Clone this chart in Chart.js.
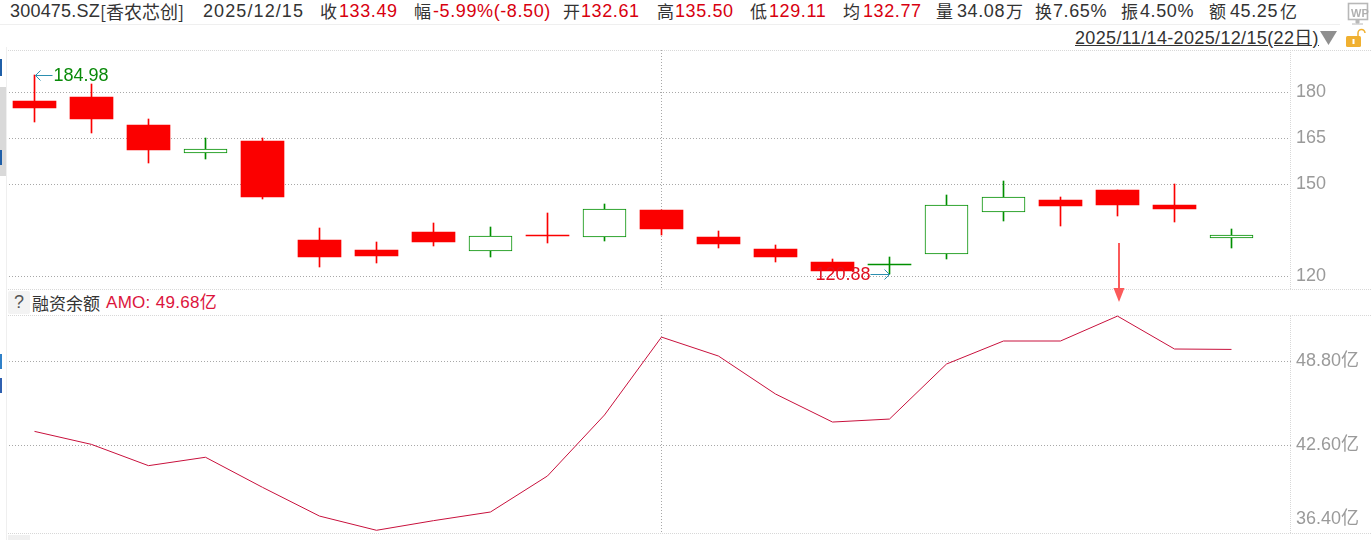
<!DOCTYPE html>
<html>
<head>
<meta charset="utf-8">
<script src="https://cdn.jsdelivr.net/npm/chart.js@4/dist/chart.umd.min.js"></script>
<style>
  html, body { margin: 0; background: #fff; overflow: hidden; }
  #page { position: relative; width: 1371px; height: 540px; overflow: hidden; font-family: "Liberation Sans", "Noto Sans CJK SC", sans-serif; }
  #page canvas { position: absolute; left: 0; }
  .t { position: absolute; white-space: nowrap; font-size: 18px; letter-spacing: 0.6px; line-height: 22px; color: #333; }
  .cn { font-family: "Noto Sans CJK SC", sans-serif; font-size: 17px; letter-spacing: 0; }
  .r { color: #d8000f; }
  .box { position: absolute; }
</style>
</head>
<body>
<div id="page">
  <canvas id="priceChart" width="1371" height="239" style="top:50px"></canvas>
  <canvas id="amoChart" width="1371" height="218" style="top:315px"></canvas>
</div>
<script>
const dates = ['11/14', '11/17', '11/18', '11/19', '11/20', '11/21', '11/24', '11/25', '11/26', '11/27', '11/28',
    '12/01', '12/02', '12/03', '12/04', '12/05', '12/08', '12/09', '12/10', '12/11', '12/12', '12/15'];
const openP = [177.16, 178.47, 169.34, 160.30, 164.12, 131.84, 128.58, 134.45, 128.15, 133.50, 132.72,
    141.62, 132.82, 128.90, 124.66, 123.75, 127.17, 140.87, 144.88, 148.14, 143.25, 132.61];
const closeP = [174.98, 171.39, 161.18, 161.41, 145.86, 126.29, 126.62, 131.18, 133.04, 133.20, 141.85,
    135.42, 130.53, 126.29, 121.73, 124.05, 143.15, 145.76, 142.92, 143.25, 141.94, 133.49];
const highP = [185.64, 182.70, 171.29, 165.00, 165.10, 135.75, 131.18, 137.38, 136.08, 140.64, 143.58,
    141.62, 134.77, 130.21, 125.64, 126.29, 146.50, 151.08, 145.86, 148.14, 150.09, 135.50];
const lowP = [170.41, 166.80, 157.04, 158.35, 145.30, 123.13, 124.34, 129.88, 126.29, 130.86, 131.51,
    133.47, 129.23, 124.66, 121.73, 120.65, 125.64, 138.03, 136.40, 139.66, 137.70, 129.11];
const amo = [43.63, 42.67, 41.10, 41.72, 39.50, 37.38, 36.33, 37.04, 37.68, 40.34, 44.84,
    50.59, 49.19, 46.39, 44.32, 44.54, 48.60, 50.30, 50.30, 52.14, 49.71, 49.68];
const priceTicks = [120, 150, 165, 180];
const amoTicks = [36.4, 42.6, 48.8];

const RED = '#fb0000';
const GREEN = '#008f00';
const GRID = '#a8a8a8';
const TICK_TEXT = '#9a9a9a';
const AMO_LINE = '#c8103c';
const AXIS_FONT = { family: '"Liberation Sans", "Noto Sans CJK SC"', size: 18 };
const GRID_DASH = [1, 2];
const isUp = dates.map((d, i) => closeP[i] > openP[i]);
// a one pixel body has no room for a border, it is drawn as a plain line
const isThin = dates.map((d, i) => Math.abs(closeP[i] - openP[i]) < 0.5);

// snap the bars to whole pixels, the reference candles are crisp
const snapBars = {
    id: 'snapBars',
    afterDatasetsUpdate(chart) {
        chart.data.datasets.forEach((ds, i) => {
            chart.getDatasetMeta(i).data.forEach(el => {
                const top = Math.round(el.y);
                let base = Math.round(el.base);
                if (base === top) base = top + 1;
                el.x = Math.floor(el.x) + 0.5;
                el.y = top;
                el.base = base;
                el.height = base - top;
            });
        });
    }
};

// high and low notes with their small arrows
const extremeNotes = {
    id: 'extremeNotes',
    afterDraw(chart) {
        const { ctx, scales } = chart;
        ctx.save();
        ctx.font = '18px "Liberation Sans"';
        ctx.textBaseline = 'middle';
        ctx.lineWidth = 1;

        const hiX = scales.x.getPixelForValue(0);
        const hiY = Math.round(scales.y.getPixelForValue(highP[0])) + 0.5;
        ctx.strokeStyle = '#2c8fb0';
        ctx.beginPath();
        ctx.moveTo(hiX + 18, hiY); ctx.lineTo(hiX + 1, hiY);
        ctx.moveTo(hiX + 6, hiY - 5); ctx.lineTo(hiX + 1, hiY); ctx.lineTo(hiX + 6, hiY + 5);
        ctx.stroke();
        ctx.fillStyle = '#0a8a0a';
        ctx.textAlign = 'left';
        ctx.fillText('184.98', hiX + 19, hiY + 1);

        const loX = scales.x.getPixelForValue(15);
        const loY = Math.round(scales.y.getPixelForValue(lowP[15])) + 0.5;
        ctx.beginPath();
        ctx.moveTo(loX - 19, loY); ctx.lineTo(loX, loY);
        ctx.moveTo(loX - 5, loY - 5); ctx.lineTo(loX, loY); ctx.lineTo(loX - 5, loY + 5);
        ctx.stroke();
        ctx.fillStyle = '#e01020';
        ctx.textAlign = 'right';
        ctx.fillText('120.88', loX - 19, loY + 1);
        ctx.restore();
    }
};

function xAxis() {
    return {
        type: 'linear',
        offset: false,
        min: -0.5,
        max: 22.0439,
        afterBuildTicks: s => { s.ticks = [{ value: 11 }]; },
        afterFit: s => { s.height = 0; s.paddingLeft = 0; s.paddingRight = 0; },
        ticks: { display: false },
        border: { display: false, dash: GRID_DASH },
        grid: { color: GRID, drawTicks: false, offset: false }
    };
}

function fitY(s) {
    s.width = 80;
    s.paddingTop = 0;
    s.paddingBottom = 0;
}

new Chart(document.getElementById('priceChart').getContext('2d'), {
    type: 'bar',
    data: {
        datasets: [
            {
                label: 'wick',
                order: 2,
                grouped: false,
                barThickness: 1,
                data: dates.map((d, i) => ({ x: i, y: [lowP[i], highP[i]] })),
                backgroundColor: isUp.map(u => u ? GREEN : RED)
            },
            {
                label: 'body',
                order: 1,
                grouped: false,
                barThickness: 43,
                data: dates.map((d, i) => ({ x: i, y: [openP[i], closeP[i]] })),
                backgroundColor: isUp.map((u, i) => u && !isThin[i] ? '#fff' : (u ? GREEN : RED)),
                borderColor: isUp.map(u => u ? GREEN : RED),
                borderWidth: isUp.map((u, i) => u && !isThin[i] ? 1 : 0),
                borderSkipped: false
            }
        ]
    },
    options: {
        responsive: false,
        animation: false,
        layout: { padding: { left: 6, right: 0, top: 0, bottom: 0 } },
        plugins: { legend: { display: false }, tooltip: { enabled: false } },
        scales: {
            x: xAxis(),
            y: {
                position: 'right',
                min: 115.86,
                max: 193.75,
                afterBuildTicks: s => { s.ticks = priceTicks.map(v => ({ value: v })); },
                afterFit: fitY,
                ticks: { color: TICK_TEXT, font: AXIS_FONT, padding: 5, callback: v => String(v) },
                border: { display: false, dash: GRID_DASH },
                grid: { color: GRID, drawTicks: false }
            }
        }
    },
    plugins: [snapBars, extremeNotes]
});

new Chart(document.getElementById('amoChart').getContext('2d'), {
    type: 'line',
    data: {
        datasets: [{
            label: '融资余额 AMO',
            data: dates.map((d, i) => ({ x: i, y: amo[i] })),
            borderColor: AMO_LINE,
            borderWidth: 1,
            pointRadius: 0,
            tension: 0
        }]
    },
    options: {
        responsive: false,
        animation: false,
        layout: { padding: { left: 6, right: 0, top: 0, bottom: 0 } },
        plugins: { legend: { display: false }, tooltip: { enabled: false } },
        scales: {
            x: xAxis(),
            y: {
                position: 'right',
                min: 36.13,
                max: 52.22,
                afterBuildTicks: s => { s.ticks = amoTicks.map(v => ({ value: v })); },
                afterFit: fitY,
                ticks: {
                    color: TICK_TEXT,
                    font: AXIS_FONT,
                    padding: 5,
                    // lowest label sits above its tick so it stays in the pane
                    callback: v => v === amoTicks[0] ? [v.toFixed(2) + '亿', ''] : v.toFixed(2) + '亿'
                },
                border: { display: false, dash: GRID_DASH },
                grid: { drawTicks: false, color: c => c.tick && c.tick.value === amoTicks[0] ? 'rgba(0,0,0,0)' : GRID }
            }
        }
    }
});

// quote header, legend and the frame around the panes
const page = document.getElementById('page');
const headerItems = [
    ['300475.SZ', 10, 'tight'], ['[香农芯创]', 100, 'code'], ['2025/12/15', 203, 'wide'],
    ['收', 320, 'cn'], ['133.49', 339, 'r'], ['幅', 414, 'cn'], ['-5.99%(-8.50)', 433, 'r'],
    ['开', 563, 'cn'], ['132.61', 581, 'r'], ['高', 657, 'cn'], ['135.50', 675, 'r'],
    ['低', 750, 'cn'], ['129.11', 769, 'r'], ['均', 843, 'cn'], ['132.77', 863, 'r'],
    ['量', 936, 'cn'], ['34.08', 957, ''], ['万', 1006, 'cn'], ['换', 1035, 'cn'], ['7.65%', 1053, ''],
    ['振', 1121, 'cn'], ['4.50%', 1140, ''], ['额', 1209, 'cn'], ['45.25', 1230, ''], ['亿', 1280, 'cn']
];
const headerCss = {
    tight: 'letter-spacing:0.2px;',
    wide: 'letter-spacing:1.1px;',
    code: 'font-family:"Noto Sans CJK SC";font-size:18px;letter-spacing:0;'
};
headerItems.forEach(([text, x, cls]) => addText(text, x, 0, headerCss[cls] ? '' : cls, headerCss[cls]));

function addText(text, x, y, cls, css) {
    const el = document.createElement('div');
    el.className = 't ' + (cls || '');
    el.textContent = text;
    el.style.left = x + 'px';
    el.style.top = y + 'px';
    if (css) el.style.cssText += css;
    page.appendChild(el);
    return el;
}

function addBox(x, y, w, h, css) {
    const el = document.createElement('div');
    el.className = 'box';
    el.style.cssText += `left:${x}px;top:${y}px;width:${w}px;height:${h}px;` + (css || '');
    page.appendChild(el);
    return el;
}

addText('2025/11/14-2025/12/15(22日)', 1075, 27, '', 'letter-spacing:0.35px;font-size:18px;text-decoration:underline;');
addBox(8, 291, 22, 23, 'background:#f3f3f3;border-radius:2px;');
addText('?', 14, 291, '', 'color:#555;');
addText('融资余额', 32, 292, 'cn', 'font-size:17px;');
addText('AMO: 49.68亿', 106, 292, '', 'color:#dc143c;font-size:17px;letter-spacing:0.3px;');

// pane frame
[50, 289, 315, 533].forEach(y => addBox(6, y, 1365, 0, 'border-top:1px dotted #d8d8d8;'));
addBox(0, 24, 1340, 0, 'border-top:1px solid #efefef;');
addBox(1290, 50, 0, 239, 'border-left:1px dotted #d8d8d8;');
addBox(1290, 315, 0, 218, 'border-left:1px dotted #d8d8d8;');
addBox(6, 47, 0, 493, 'border-left:1px solid #efefef;');
addBox(8, 535, 22, 5, 'background:#f0f0f0;');

// clipped sidebar on the far left
addBox(0, 87, 6, 89, 'background:#d9d9d9;');
addBox(0, 59, 2, 17, 'background:#1f5fa8;');
addBox(0, 150, 2, 15, 'background:#1f5fa8;');
addBox(0, 354, 2, 15, 'background:#2f80c8;');
addBox(0, 378, 2, 15, 'background:#2f60b0;');

// down triangle, lock, WP mark and the red arrow
page.insertAdjacentHTML('beforeend', `
<svg style="position:absolute;left:0;top:0" width="1371" height="540">
  <polygon points="1320,31 1337,31 1328.5,45" fill="#8f8f8f"/>
  <rect x="1346" y="36" width="15" height="11" rx="1.5" fill="#f0b030"/>
  <rect x="1352.5" y="39" width="2" height="5" fill="#fff"/>
  <path d="M1358 36v-3a3.5 3.5 0 0 1 7 0" fill="none" stroke="#f0b030" stroke-width="1.5"/>
  <rect x="1348.5" y="3.5" width="19" height="16" fill="#fff" stroke="#b8b8b8" stroke-width="1.6"/>
  <text x="1351" y="17" font-family="Liberation Sans" font-size="11" font-weight="bold" fill="#b0b0b0">WP</text>
  <path d="M1356 20h3v3h-3zM1352 24h11" stroke="#b8b8b8" fill="#b8b8b8"/>
  <path d="M1119 243v48" stroke="#fb5a5a" stroke-width="2"/>
  <polygon points="1113.5,288 1124.5,288 1119,302" fill="#fb5a5a"/>
</svg>`);
</script>
</body>
</html>
